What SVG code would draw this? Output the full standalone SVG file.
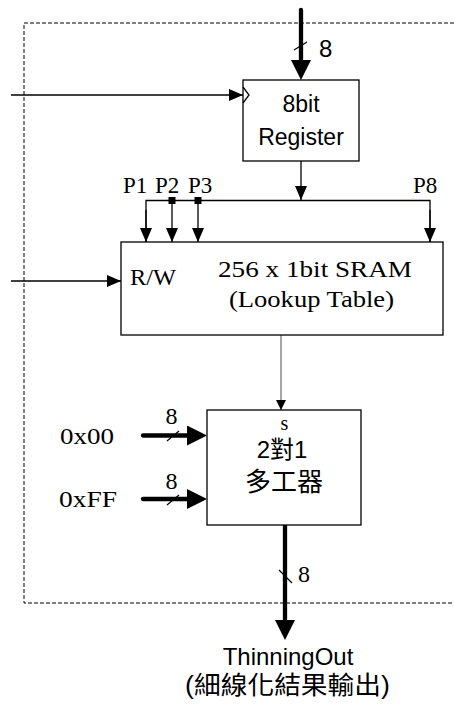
<svg xmlns="http://www.w3.org/2000/svg" width="454" height="704" viewBox="0 0 454 704">
<style>
.box{fill:#fff;stroke:#000;stroke-width:1.3}
.thin{stroke:#000;stroke-width:1.3;fill:none}
.thick{stroke:#000;stroke-width:4.3;fill:none;stroke-linecap:round}
.slash{stroke:#000;stroke-width:1.2}
.sans{font-family:"Liberation Sans",Arial,sans-serif;fill:#000}
.serif{font-family:"Liberation Serif","Times New Roman",serif;fill:#000}
.cjk{font-family:"Liberation Sans","Noto Sans CJK TC",sans-serif;fill:#000}
</style>
<defs>
<marker id="ah" markerUnits="userSpaceOnUse" markerWidth="14" markerHeight="12" refX="14" refY="6" orient="auto"><path d="M0,0 L14,6 L0,12 z" fill="#000"/></marker>
<marker id="ahg" markerUnits="userSpaceOnUse" markerWidth="10" markerHeight="10" refX="10" refY="5" orient="auto"><path d="M0,0 L10,5 L0,10 z" fill="#000"/></marker>
<marker id="ahT" markerUnits="userSpaceOnUse" markerWidth="20" markerHeight="20" refX="8" refY="10" orient="auto"><path d="M0,0 L20,10 L0,20 z" fill="#000"/></marker>
</defs>
<rect x="24" y="23" width="440" height="580" fill="none" stroke="#000" stroke-width="1" stroke-dasharray="4,2"/>
<g id="connectors">
<line class="thick" x1="301" y1="10" x2="301" y2="68" marker-end="url(#ahT)"/>
<line class="slash" x1="294" y1="50" x2="307" y2="42"/>
<line class="thin" x1="11" y1="95" x2="243" y2="95" marker-end="url(#ah)"/>
<line class="thin" x1="301" y1="161" x2="301" y2="200" marker-end="url(#ah)"/>
<polyline class="thin" points="146,242 146,200.5 430,200.5 430,242"/>
<line class="thin" x1="146" y1="210" x2="146" y2="242" marker-end="url(#ah)"/>
<line class="thin" x1="172" y1="200" x2="172" y2="242" marker-end="url(#ah)"/>
<line class="thin" x1="198" y1="200" x2="198" y2="242" marker-end="url(#ah)"/>
<line class="thin" x1="430" y1="210" x2="430" y2="242" marker-end="url(#ah)"/>
<rect x="168.5" y="197" width="7" height="7" fill="#000"/>
<rect x="194.5" y="197" width="7" height="7" fill="#000"/>
<line class="thin" x1="11" y1="281" x2="121" y2="281" marker-end="url(#ah)"/>
<line x1="281" y1="335" x2="281" y2="410" stroke="#777" stroke-width="1.3" marker-end="url(#ahg)"/>
<line class="thick" x1="143" y1="435.5" x2="195" y2="435.5" marker-end="url(#ahT)"/>
<line class="slash" x1="167" y1="441" x2="179" y2="431"/>
<line class="thick" x1="143" y1="499" x2="195" y2="499" marker-end="url(#ahT)"/>
<line class="slash" x1="167" y1="505" x2="179" y2="495"/>
<line class="thick" x1="285" y1="524" x2="285" y2="628" marker-end="url(#ahT)"/>
<line class="slash" x1="279" y1="570" x2="292" y2="583"/>
</g>
<g id="register">
<rect class="box" x="243" y="80" width="116" height="81"/>
<polyline class="thin" points="243,87 249,95 243,103"/>
<text class="sans" x="301" y="112" font-size="23" text-anchor="middle">8bit</text>
<text class="sans" x="301" y="145" font-size="23" text-anchor="middle">Register</text>
</g>
<g id="sram">
<rect class="box" x="121" y="242" width="322" height="93"/>
<text class="serif" x="130" y="285" font-size="24" textLength="46" lengthAdjust="spacingAndGlyphs">R/W</text>
<text class="serif" x="218" y="276.5" font-size="24" textLength="194" lengthAdjust="spacingAndGlyphs">256 x 1bit SRAM</text>
<text class="serif" x="229" y="306.5" font-size="24" textLength="165" lengthAdjust="spacingAndGlyphs">(Lookup Table)</text>
</g>
<g id="mux">
<rect class="box" x="207" y="410" width="154" height="115"/>
<text class="serif" x="284.5" y="430" font-size="20" text-anchor="middle">s</text>
<text class="cjk" x="282" y="458" font-size="24" text-anchor="middle">2對1</text>
<text class="cjk" x="284" y="491" font-size="26" text-anchor="middle">多工器</text>
</g>
<g id="labels">
<text class="sans" x="319" y="57" font-size="24">8</text>
<text class="serif" x="123" y="193" font-size="23">P1</text>
<text class="serif" x="155" y="193" font-size="23">P2</text>
<text class="serif" x="188" y="193" font-size="23">P3</text>
<text class="serif" x="413" y="193" font-size="23">P8</text>
<text class="serif" x="60" y="443.5" font-size="24" textLength="54" lengthAdjust="spacingAndGlyphs">0x00</text>
<text class="serif" x="59" y="507" font-size="24" textLength="58" lengthAdjust="spacingAndGlyphs">0xFF</text>
<text class="serif" x="171.5" y="423.5" font-size="24" text-anchor="middle">8</text>
<text class="serif" x="171.5" y="488.5" font-size="24" text-anchor="middle">8</text>
<text class="serif" x="298" y="582" font-size="24">8</text>
<text class="sans" x="288" y="664.5" font-size="24" text-anchor="middle">ThinningOut</text>
<text class="cjk" x="185" y="694" font-size="25" textLength="205" lengthAdjust="spacingAndGlyphs">(細線化結果輸出)</text>
</g>
</svg>
